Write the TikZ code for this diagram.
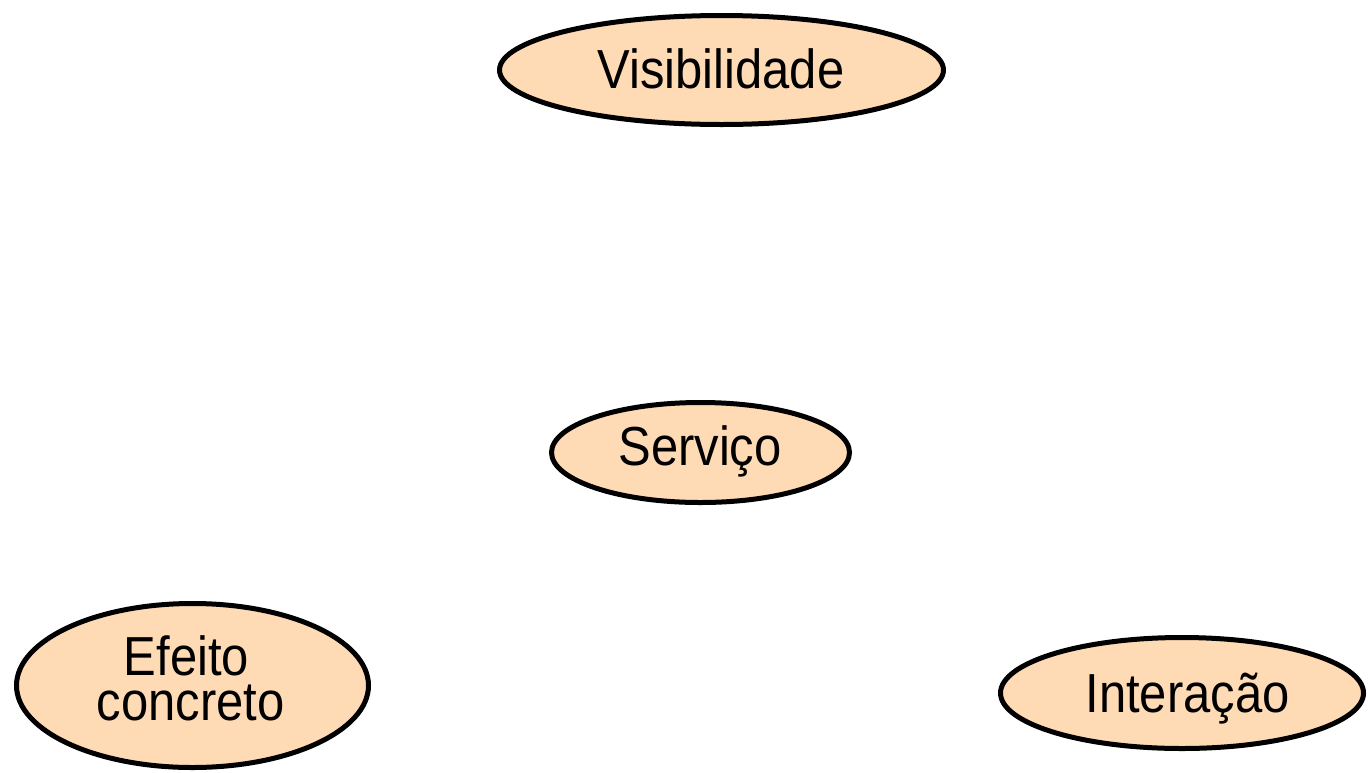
\documentclass[tikz,border=0pt]{standalone}
\usepackage{fontspec}
\setmainfont[FakeStretch=0.89]{Liberation Sans}
\usetikzlibrary{shapes.geometric}
\definecolor{peach}{HTML}{FFDBB5}
\begin{document}
\begin{tikzpicture}[x=1pt,y=-1pt,
  oval/.style={ellipse,draw=black,fill=peach,line width=5pt,inner sep=0pt},
  lbl/.style={anchor=base,inner sep=0pt,font=\fontsize{55}{55}\selectfont}]
\useasboundingbox (0,0) rectangle (1368,772);
\node[oval,minimum width=444pt,minimum height=109pt] (vis) at (721.5,70) {};
\node[oval,minimum width=298pt,minimum height=100pt] (serv) at (700.5,452.5) {};
\node[oval,minimum width=352pt,minimum height=164pt] (efe) at (192.5,685.5) {};
\node[oval,minimum width=363pt,minimum height=111pt] (int) at (1182,693) {};
\node[lbl] (tvis) at (721,88) {Visibilidade};
\node[lbl] (tserv) at (700,465) {Serviço};
\node[lbl,text depth=0pt] (tefe1) at (186.5,675) {Efeito};
\node[lbl,text height=30pt] (tefe2) at (190.5,720) {concreto};
\node[lbl] (tint) at (1187.5,712) {Interação};
\end{tikzpicture}
\end{document}
